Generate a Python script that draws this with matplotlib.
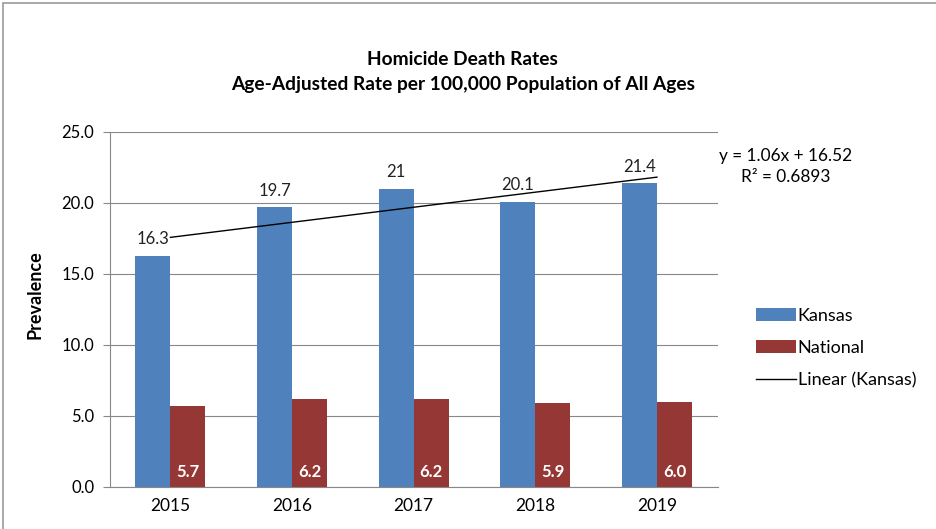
import matplotlib
matplotlib.use("Agg")
import matplotlib.pyplot as plt
import numpy as np
from matplotlib.patches import Rectangle

years = ["2015", "2016", "2017", "2018", "2019"]
kansas = [16.3, 19.7, 21.0, 20.1, 21.4]
kansas_labels = ["16.3", "19.7", "21", "20.1", "21.4"]
national = [5.7, 6.2, 6.2, 5.9, 6.0]
national_labels = ["5.7", "6.2", "6.2", "5.9", "6.0"]
slope, intercept = 1.06, 16.52
yticks = [0, 5, 10, 15, 20, 25]

plt.rcParams['font.family'] = ['Lato', 'DejaVu Sans']

fig = plt.figure(figsize=(9.37, 5.29), dpi=100)
ax = fig.add_axes([0.117, 0.0794, 0.649, 0.6711])

x = np.arange(len(years))
w = 0.288
kc = "#4F81BD"
nc = "#953735"
bk = ax.bar(x - w/2, kansas, w, color=kc, label="Kansas", zorder=2)
bn = ax.bar(x + w/2, national, w, color=nc, label="National", zorder=2)

xt = np.array([x[0], x[-1]])
(ln,) = ax.plot(xt, slope * (xt + 1) + intercept, color="black", lw=1, zorder=3,
                label="Linear (Kansas)")

for xi, v, t in zip(x, kansas, kansas_labels):
    ax.text(xi - w/2, v + 0.6, t, ha="center", va="bottom", fontsize=12, color="#222222", zorder=4)
for xi, v, t in zip(x, national, national_labels):
    ax.text(xi + w/2, 0.5, t, ha="center", va="bottom", fontsize=12, color="white",
            fontweight="bold", zorder=4)

ax.set_xlim(-0.5, 4.5)
ax.set_ylim(0, 25)
ax.set_yticks(yticks)
ax.set_yticklabels([f"{v:.1f}" for v in yticks], fontsize=12)
ax.set_xticks(x)
ax.set_xticklabels(years, fontsize=12.5)
ax.tick_params(axis="x", length=0, pad=8)
ax.tick_params(axis="y", length=5, color="#888888", pad=6)
ax.grid(axis="y", color="#888888", lw=0.8, zorder=0)
for s in ["top", "right"]:
    ax.spines[s].set_visible(False)
ax.spines["left"].set_color("#888888")
ax.spines["bottom"].set_color("#888888")

fig.text(35/937, 1 - 295/529, "Prevalence", rotation=90, ha="center", va="center",
         fontsize=13, fontweight="bold")

fig.text(0.494, 0.888, "Homicide Death Rates", ha="center", va="center",
         fontsize=13.8, fontweight="bold")
fig.text(0.494, 0.840, "Age-Adjusted Rate per 100,000 Population of All Ages", ha="center",
         va="center", fontsize=13.8, fontweight="bold")

fig.text(0.838, 0.706, "y = 1.06x + 16.52", ha="center", va="center", fontsize=12.4)
fig.text(0.838, 0.665, "R² = 0.6893", ha="center", va="center", fontsize=12.4)

leg = fig.legend(handles=[bk, bn, ln], loc="center left", bbox_to_anchor=(0.807, 0.342),
                 frameon=False, fontsize=13, handlelength=2.2, handletextpad=0.1,
                 labelspacing=0.9, borderaxespad=0, borderpad=0)

fig.add_artist(Rectangle((0.003, -0.1), 1.2, 1.094, transform=fig.transFigure,
                         fill=False, edgecolor="#999999", lw=1.2))

fig.savefig("out.png", dpi=100)
